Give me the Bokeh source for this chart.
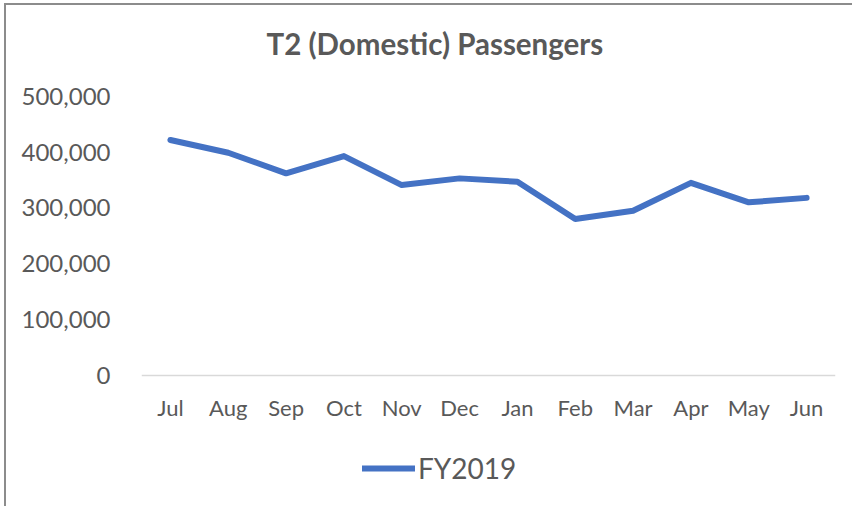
from bokeh.plotting import figure
from bokeh.models import (FactorRange, Range1d, FixedTicker, NumeralTickFormatter,
                          Legend, LegendItem, Label)
from bokeh.embed import file_html
from bokeh.resources import INLINE

# ---- data ----
months = ["Jul", "Aug", "Sep", "Oct", "Nov", "Dec", "Jan", "Feb", "Mar", "Apr", "May", "Jun"]
passengers = [422000, 399000, 362000, 393000, 341000, 353000, 347000, 280000, 295000, 345000, 310000, 318000]
series_name = "FY2019"
y_ticks = [0, 100000, 200000, 300000, 400000, 500000]
y_max = 500000
title_text = "T2 (Domestic) Passengers"

FONT = "Lato"
TXT = "#595959"

# ---- layout (pixels) ----
CANVAS_H = 503
BORDER_TOP = 15         # canvas px above the frame
VALUE_AXIS_PX = 278.5   # pixels from 0 to y_max
ABOVE_MAX_PX = 76       # frame space above y_max (title)
BELOW_ZERO_PX = 115.5   # frame space below zero (x labels + legend)
FRAME_H = 470
y_start = -BELOW_ZERO_PX / VALUE_AXIS_PX * y_max
y_end = y_max + ABOVE_MAX_PX / VALUE_AXIS_PX * y_max

p = figure(
    width=848, height=CANVAS_H,
    x_range=FactorRange(factors=months, range_padding=0),
    y_range=Range1d(y_start, y_end),
    output_backend="svg", toolbar_location=None,
    min_border_left=135, min_border_right=19,
    min_border_top=BORDER_TOP, min_border_bottom=CANVAS_H - BORDER_TOP - FRAME_H,
)
p.styles = {"margin-left": "4px", "margin-top": "3px",
            "border-left": "2px solid #8c8c8c", "border-top": "2px solid #8c8c8c"}
p.outline_line_color = None
p.background_fill_color = "white"
p.border_fill_color = "white"
p.xgrid.grid_line_color = None
p.ygrid.grid_line_color = None

r = p.line(months, passengers, line_color="#4472C4", line_width=6,
           line_cap="round", line_join="round")

# x axis, drawn at value 0
xa = p.xaxis[0]
xa.fixed_location = 0
xa.axis_line_color = "#d9d9d9"
xa.axis_line_width = 1.5
xa.major_tick_line_color = None
xa.minor_tick_line_color = None
xa.major_tick_out = 0
xa.major_label_standoff = 19
xa.major_label_text_font = FONT
xa.major_label_text_font_size = "22px"
xa.major_label_text_color = TXT

# y axis
ya = p.yaxis[0]
ya.ticker = FixedTicker(ticks=y_ticks)
ya.formatter = NumeralTickFormatter(format="0,0")
ya.axis_line_color = None
ya.major_tick_line_color = None
ya.minor_tick_line_color = None
ya.major_tick_out = 0
ya.major_label_standoff = 31
ya.major_label_text_font = FONT
ya.major_label_text_font_size = "24px"
ya.major_label_text_color = TXT

# title (inside the top of the frame)
p.add_layout(Label(x=125, y=FRAME_H - 23, x_units="screen", y_units="screen",
                   text=title_text, text_align="left", text_baseline="alphabetic",
                   text_font=FONT, text_font_style="bold", text_font_size="29.5px",
                   text_color=TXT))

# legend
legend = Legend(items=[LegendItem(label=series_name, renderers=[r])],
                location=(221, 4), orientation="horizontal",
                glyph_width=53, glyph_height=36, label_height=36, label_standoff=3,
                padding=0, margin=0, spacing=0,
                border_line_color=None, background_fill_alpha=0,
                label_text_font=FONT, label_text_font_size="28px",
                label_text_color=TXT)
p.add_layout(legend, "center")

open("out.html", "w").write(file_html(p, INLINE))
